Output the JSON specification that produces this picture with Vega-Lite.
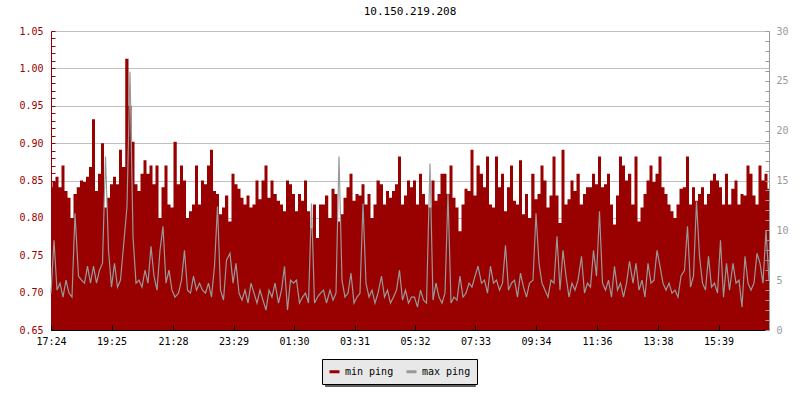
{
"$schema": "https://vega.github.io/schema/vega-lite/v6.json",
"width": 718, "height": 299,
"autosize": "none",
"padding": {"left": 51, "top": 31, "right": 31, "bottom": 70},
"title": {"text": "10.150.219.208", "font": "DejaVu Sans Mono", "fontSize": 11, "fontWeight": "normal", "color": "black", "anchor": "middle", "frame": "group", "baseline": "alphabetic", "offset": 0},
"data": {"values": [
{"m":0,"min":0.841,"max":3.7},{"m":6,"min":0.848,"max":9.0},{"m":12,"min":0.855,"max":4.0},{"m":18,"min":0.841,"max":4.7},{"m":24,"min":0.870,"max":3.3},{"m":30,"min":0.836,"max":5.0},{"m":36,"min":0.827,"max":3.7},{"m":42,"min":0.800,"max":3.3},{"m":48,"min":0.832,"max":11.7},{"m":55,"min":0.841,"max":5.4},
{"m":61,"min":0.850,"max":5.0},{"m":67,"min":0.848,"max":4.7},{"m":73,"min":0.855,"max":6.4},{"m":79,"min":0.868,"max":4.7},{"m":85,"min":0.932,"max":6.4},{"m":91,"min":0.836,"max":4.7},{"m":97,"min":0.859,"max":6.0},{"m":103,"min":0.900,"max":6.7},{"m":109,"min":0.814,"max":17.4},{"m":115,"min":0.827,"max":8.0},
{"m":121,"min":0.845,"max":4.3},{"m":127,"min":0.855,"max":6.7},{"m":133,"min":0.845,"max":4.3},{"m":139,"min":0.891,"max":5.0},{"m":145,"min":0.868,"max":8.4},{"m":152,"min":1.013,"max":12.4},{"m":158,"min":0.950,"max":25.9},{"m":164,"min":0.902,"max":9.4},{"m":170,"min":0.845,"max":4.7},{"m":176,"min":0.836,"max":5.0},
{"m":182,"min":0.859,"max":4.3},{"m":188,"min":0.877,"max":6.0},{"m":194,"min":0.859,"max":4.7},{"m":200,"min":0.870,"max":8.4},{"m":206,"min":0.845,"max":5.4},{"m":212,"min":0.870,"max":4.0},{"m":218,"min":0.800,"max":8.0},{"m":224,"min":0.841,"max":10.4},{"m":230,"min":0.870,"max":4.7},{"m":236,"min":0.818,"max":6.0},
{"m":242,"min":0.814,"max":4.0},{"m":248,"min":0.902,"max":3.3},{"m":255,"min":0.845,"max":3.7},{"m":261,"min":0.870,"max":5.0},{"m":267,"min":0.850,"max":8.0},{"m":273,"min":0.800,"max":4.0},{"m":279,"min":0.809,"max":3.7},{"m":285,"min":0.818,"max":5.4},{"m":291,"min":0.870,"max":4.0},{"m":297,"min":0.818,"max":4.7},
{"m":303,"min":0.850,"max":4.0},{"m":309,"min":0.845,"max":3.7},{"m":315,"min":0.870,"max":4.7},{"m":321,"min":0.891,"max":3.3},{"m":327,"min":0.836,"max":6.4},{"m":333,"min":0.832,"max":12.4},{"m":339,"min":0.805,"max":4.0},{"m":345,"min":0.814,"max":3.0},{"m":351,"min":0.830,"max":7.0},{"m":358,"min":0.795,"max":7.7},
{"m":364,"min":0.859,"max":4.7},{"m":370,"min":0.845,"max":6.7},{"m":376,"min":0.839,"max":3.7},{"m":382,"min":0.827,"max":3.0},{"m":388,"min":0.818,"max":4.0},{"m":394,"min":0.830,"max":2.7},{"m":400,"min":0.814,"max":4.7},{"m":406,"min":0.818,"max":3.7},{"m":412,"min":0.850,"max":2.7},{"m":418,"min":0.825,"max":4.0},
{"m":424,"min":0.850,"max":3.0},{"m":430,"min":0.870,"max":2.0},{"m":436,"min":0.827,"max":4.0},{"m":442,"min":0.850,"max":3.3},{"m":448,"min":0.832,"max":4.7},{"m":455,"min":0.823,"max":2.7},{"m":461,"min":0.818,"max":4.0},{"m":467,"min":0.809,"max":6.4},{"m":473,"min":0.850,"max":2.0},{"m":479,"min":0.845,"max":5.0},
{"m":485,"min":0.832,"max":4.7},{"m":491,"min":0.809,"max":5.0},{"m":497,"min":0.832,"max":2.7},{"m":503,"min":0.823,"max":3.3},{"m":509,"min":0.850,"max":3.7},{"m":515,"min":0.809,"max":2.7},{"m":521,"min":0.786,"max":12.7},{"m":527,"min":0.818,"max":2.7},{"m":533,"min":0.773,"max":3.3},{"m":539,"min":0.818,"max":3.7},
{"m":545,"min":0.818,"max":4.0},{"m":551,"min":0.830,"max":2.7},{"m":558,"min":0.800,"max":4.0},{"m":564,"min":0.839,"max":3.0},{"m":570,"min":0.832,"max":3.7},{"m":576,"min":0.795,"max":17.4},{"m":582,"min":0.805,"max":5.0},{"m":588,"min":0.827,"max":3.3},{"m":594,"min":0.841,"max":3.7},{"m":600,"min":0.859,"max":5.7},
{"m":606,"min":0.823,"max":2.7},{"m":612,"min":0.832,"max":3.3},{"m":618,"min":0.830,"max":3.7},{"m":624,"min":0.845,"max":12.7},{"m":630,"min":0.818,"max":4.7},{"m":636,"min":0.832,"max":3.3},{"m":642,"min":0.800,"max":4.0},{"m":648,"min":0.818,"max":2.7},{"m":654,"min":0.850,"max":3.7},{"m":661,"min":0.845,"max":5.4},
{"m":667,"min":0.818,"max":3.3},{"m":673,"min":0.836,"max":4.0},{"m":679,"min":0.827,"max":2.7},{"m":685,"min":0.836,"max":3.3},{"m":691,"min":0.845,"max":4.0},{"m":697,"min":0.882,"max":6.0},{"m":703,"min":0.818,"max":3.0},{"m":709,"min":0.830,"max":4.0},{"m":715,"min":0.850,"max":2.7},{"m":721,"min":0.841,"max":3.3},
{"m":727,"min":0.850,"max":3.3},{"m":733,"min":0.818,"max":2.3},{"m":739,"min":0.859,"max":4.0},{"m":745,"min":0.832,"max":3.0},{"m":751,"min":0.818,"max":2.7},{"m":758,"min":0.814,"max":16.7},{"m":764,"min":0.850,"max":3.0},{"m":770,"min":0.823,"max":4.7},{"m":776,"min":0.832,"max":3.3},{"m":782,"min":0.859,"max":2.7},
{"m":788,"min":0.859,"max":3.7},{"m":794,"min":0.832,"max":13.7},{"m":800,"min":0.870,"max":2.7},{"m":806,"min":0.827,"max":3.3},{"m":812,"min":0.814,"max":3.0},{"m":818,"min":0.782,"max":5.4},{"m":824,"min":0.818,"max":3.3},{"m":830,"min":0.839,"max":3.7},{"m":836,"min":0.836,"max":4.7},{"m":842,"min":0.891,"max":4.3},
{"m":848,"min":0.830,"max":5.4},{"m":854,"min":0.870,"max":6.4},{"m":861,"min":0.859,"max":4.7},{"m":867,"min":0.841,"max":5.0},{"m":873,"min":0.882,"max":3.7},{"m":879,"min":0.818,"max":6.4},{"m":885,"min":0.814,"max":4.7},{"m":891,"min":0.882,"max":5.0},{"m":897,"min":0.841,"max":4.0},{"m":903,"min":0.859,"max":4.7},
{"m":909,"min":0.809,"max":8.5},{"m":915,"min":0.841,"max":4.0},{"m":921,"min":0.870,"max":4.7},{"m":927,"min":0.823,"max":5.0},{"m":933,"min":0.818,"max":3.3},{"m":939,"min":0.877,"max":5.7},{"m":945,"min":0.805,"max":4.3},{"m":951,"min":0.832,"max":3.3},{"m":957,"min":0.800,"max":4.7},{"m":964,"min":0.859,"max":5.0},
{"m":970,"min":0.825,"max":11.7},{"m":976,"min":0.832,"max":6.7},{"m":982,"min":0.870,"max":4.7},{"m":988,"min":0.850,"max":4.0},{"m":994,"min":0.814,"max":3.3},{"m":1000,"min":0.830,"max":5.0},{"m":1006,"min":0.882,"max":4.7},{"m":1012,"min":0.830,"max":9.4},{"m":1018,"min":0.793,"max":4.0},{"m":1024,"min":0.891,"max":8.0},
{"m":1030,"min":0.818,"max":5.4},{"m":1036,"min":0.825,"max":3.3},{"m":1042,"min":0.850,"max":4.7},{"m":1048,"min":0.836,"max":4.0},{"m":1054,"min":0.859,"max":5.0},{"m":1061,"min":0.818,"max":7.4},{"m":1067,"min":0.832,"max":3.7},{"m":1073,"min":0.841,"max":4.7},{"m":1079,"min":0.841,"max":4.3},{"m":1085,"min":0.859,"max":8.0},
{"m":1091,"min":0.845,"max":5.4},{"m":1097,"min":0.882,"max":11.9},{"m":1103,"min":0.841,"max":4.7},{"m":1109,"min":0.845,"max":4.0},{"m":1115,"min":0.859,"max":5.0},{"m":1121,"min":0.818,"max":3.3},{"m":1127,"min":0.791,"max":6.4},{"m":1133,"min":0.830,"max":4.0},{"m":1139,"min":0.882,"max":4.7},{"m":1145,"min":0.870,"max":3.3},
{"m":1151,"min":0.850,"max":4.7},{"m":1157,"min":0.859,"max":6.9},{"m":1164,"min":0.818,"max":4.7},{"m":1170,"min":0.882,"max":6.7},{"m":1176,"min":0.795,"max":4.0},{"m":1182,"min":0.814,"max":5.0},{"m":1188,"min":0.832,"max":3.3},{"m":1194,"min":0.850,"max":6.7},{"m":1200,"min":0.870,"max":4.7},{"m":1206,"min":0.848,"max":5.0},
{"m":1212,"min":0.859,"max":8.0},{"m":1218,"min":0.882,"max":6.4},{"m":1224,"min":0.841,"max":4.7},{"m":1230,"min":0.832,"max":4.0},{"m":1236,"min":0.818,"max":4.7},{"m":1242,"min":0.809,"max":3.7},{"m":1248,"min":0.800,"max":4.0},{"m":1254,"min":0.818,"max":3.3},{"m":1260,"min":0.839,"max":5.4},{"m":1267,"min":0.841,"max":6.0},
{"m":1273,"min":0.882,"max":10.4},{"m":1279,"min":0.818,"max":4.3},{"m":1285,"min":0.841,"max":5.4},{"m":1291,"min":0.823,"max":12.9},{"m":1297,"min":0.832,"max":7.4},{"m":1303,"min":0.841,"max":4.7},{"m":1309,"min":0.818,"max":4.0},{"m":1315,"min":0.832,"max":7.4},{"m":1321,"min":0.850,"max":4.3},{"m":1327,"min":0.859,"max":4.7},
{"m":1333,"min":0.850,"max":3.7},{"m":1339,"min":0.841,"max":9.0},{"m":1345,"min":0.818,"max":3.3},{"m":1351,"min":0.859,"max":6.7},{"m":1357,"min":0.818,"max":4.0},{"m":1364,"min":0.839,"max":6.7},{"m":1370,"min":0.850,"max":4.7},{"m":1376,"min":0.818,"max":5.0},{"m":1382,"min":0.832,"max":2.3},{"m":1388,"min":0.830,"max":7.4},
{"m":1394,"min":0.870,"max":4.7},{"m":1400,"min":0.859,"max":4.0},{"m":1406,"min":0.830,"max":4.7},{"m":1412,"min":0.818,"max":7.7},{"m":1418,"min":0.870,"max":6.7},{"m":1424,"min":0.850,"max":4.7},{"m":1430,"min":0.859,"max":10.0},{"m":1436,"min":0.839,"max":5.0}
]},
"encoding": {
  "x": {"field": "m", "type": "quantitative",
    "scale": {"domain": [0, 1436], "nice": false, "zero": false},
    "axis": {"orient": "bottom", "title": null, "values": [0,121,244,365,486,607,728,849,970,1092,1214,1335],
      "labelExpr": "timeFormat(datetime(2024,0,1,17,24+datum.value), '%H:%M')",
      "domainColor": "black", "tickColor": "black", "tickSize": -5, "labelPadding": 11, "labelColor": "black",
      "grid": false, "zindex": 1, "labelFlush": false, "labelOverlap": false}}
},
"layer": [
  {"mark": {"type": "area", "interpolate": "step"},
   "encoding": {
     "y": {"field": "min", "type": "quantitative",
       "scale": {"domain": [0.65, 1.05], "nice": false, "zero": false, "clamp": true},
       "axis": {"orient": "left", "title": null,
         "values": [0.65,0.66,0.67,0.68,0.69,0.70,0.71,0.72,0.73,0.74,0.75,0.76,0.77,0.78,0.79,0.80,0.81,0.82,0.83,0.84,0.85,0.86,0.87,0.88,0.89,0.90,0.91,0.92,0.93,0.94,0.95,0.96,0.97,0.98,0.99,1.00,1.01,1.02,1.03,1.04,1.05],
         "labelExpr": "round(datum.value*100)%5==0 ? format(datum.value,'.2f') : ''",
         "labelColor": "#990000", "domainColor": "#990000", "tickColor": "#990000",
         "tickSize": -4, "labelPadding": 12, "labelOverlap": false, "labelFlush": false,
         "grid": true,
         "gridColor": {"condition": {"test": "round(datum.value*100)%5==0", "value": "#c0c0c0"}, "value": "rgba(0,0,0,0)"},
         "zindex": 0}},
     "color": {"datum": "min ping", "type": "nominal",
       "scale": {"domain": ["min ping", "max ping"], "range": ["#990000", "#999999"]},
       "legend": {"orient": "none", "legendX": 271, "legendY": 328, "direction": "horizontal", "title": null,
         "symbolType": "stroke", "symbolSize": 100, "symbolStrokeWidth": 3,
         "labelFont": "DejaVu Sans Mono", "labelFontSize": 10, "labelColor": "black",
         "fillColor": "#e8e8e8", "strokeColor": "black", "padding": 6, "columnPadding": 6, "labelOffset": 4,
         "labelExpr": "datum.label == 'max ping' ? datum.label + '   ' : datum.label",
         "zindex": 2,
         "encode": {"symbols": {"update": {"stroke": {"scale": "color", "field": "value"}, "strokeWidth": {"value": 3}}}}}}
   }},
  {"mark": {"type": "line", "interpolate": "linear", "strokeWidth": 1.2},
   "encoding": {
     "y": {"field": "max", "type": "quantitative",
       "scale": {"domain": [0, 30], "nice": false, "zero": true},
       "axis": {"orient": "right", "title": null,
         "values": [0,1,2,3,4,5,6,7,8,9,10,11,12,13,14,15,16,17,18,19,20,21,22,23,24,25,26,27,28,29,30],
         "labelExpr": "datum.value%5==0 ? datum.label : ''",
         "labelColor": "#999999", "domainColor": "#999999", "tickColor": "#999999",
         "tickSize": -4, "labelPadding": 11, "labelOverlap": false, "labelFlush": false,
         "grid": false, "zindex": 1}},
     "color": {"datum": "max ping", "type": "nominal"},
     "strokeDash": {"datum": "b", "type": "nominal",
       "scale": {"domain": ["a", "b"], "range": [[1, 0], [1, 0]]},
       "legend": {"orient": "none", "legendX": 274, "legendY": 331, "direction": "horizontal", "title": null,
         "symbolType": "stroke", "symbolSize": 100, "symbolStrokeWidth": 3, "symbolOpacity": 0,
         "labelFont": "DejaVu Sans Mono", "labelFontSize": 10, "labelOpacity": 0,
         "fillColor": "#606060", "strokeColor": "#606060", "padding": 6, "columnPadding": 6, "labelOffset": 4,
         "labelExpr": "datum.value == 'a' ? 'min ping' : 'max ping   '",
         "zindex": 0}}
   }}
],
"resolve": {"scale": {"y": "independent"}},
"config": {
  "view": {"stroke": null},
  "axis": {"labelFont": "DejaVu Sans Mono", "labelFontSize": 10, "domainWidth": 1, "tickWidth": 1}
}
}
